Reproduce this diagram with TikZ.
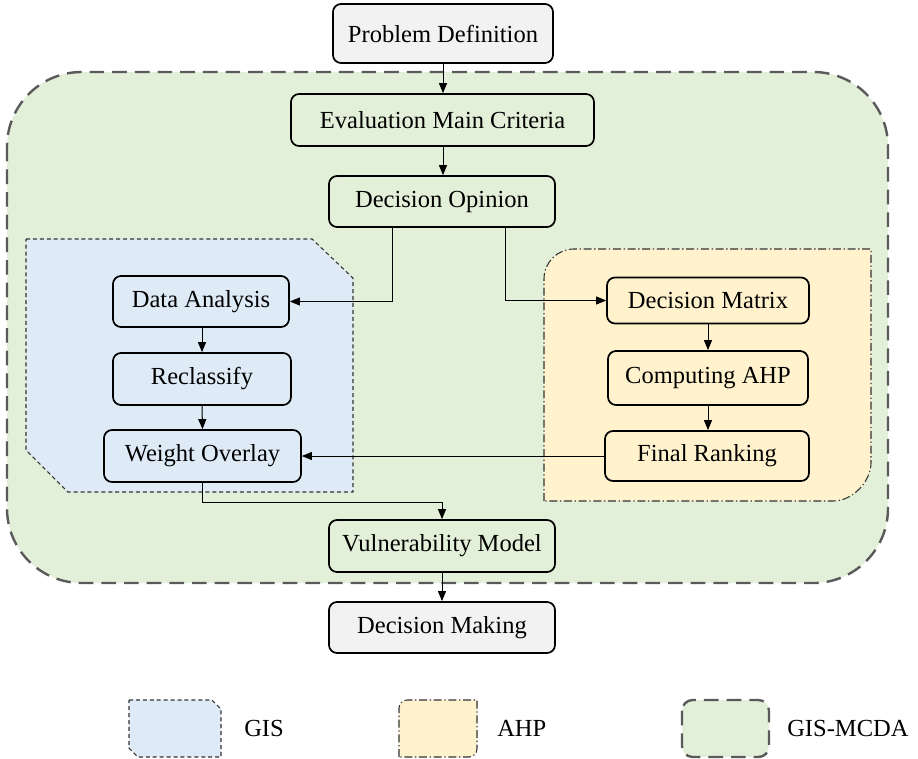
\documentclass[tikz,border=0pt]{standalone}
\usepackage{fontspec}
\setmainfont{Liberation Serif}
\usetikzlibrary{arrows.meta}
\definecolor{gfill}{HTML}{E2EFD9}
\definecolor{bfill}{HTML}{DEEBF7}
\definecolor{yfill}{HTML}{FFF2CC}
\definecolor{pfill}{HTML}{F2F2F2}
\definecolor{dgray}{HTML}{5A5A5A}
\definecolor{lgray}{HTML}{333333}
\begin{document}
\begin{tikzpicture}[x=0.75pt,y=-0.75pt,
  box/.style={draw,line width=1.3pt,rounded corners=6pt,inner sep=0pt,
    font=\fontsize{18.4pt}{22pt}\selectfont},
  arr/.style={-{Triangle[length=7.5pt,width=6pt]},line width=0.75pt},
  mcdaline/.style={draw=dgray,line width=1.8pt,dash pattern=on 11pt off 6pt},
  gisline/.style={draw=lgray,line width=0.8pt,dash pattern=on 3pt off 2.2pt},
  ahpline/.style={draw=lgray,line width=0.8pt,dash pattern=on 6pt off 2pt on 1pt off 2pt},
  legtext/.style={anchor=west,inner sep=0pt,font=\fontsize{18.4pt}{22pt}\selectfont}]
\useasboundingbox (0,0) rectangle (918,758);
% regions
\path[mcdaline,fill=gfill,rounded corners=56pt] (7,72) rectangle (888,583);
\path[gisline,fill=bfill] (26,239) -- (312,239) -- (353,278) -- (353,492) -- (68,492) -- (26,450) -- cycle;
\path[ahpline,fill=yfill] (544,501) -- (544,279) .. controls (544,262.4) and (557.4,249) .. (574,249)
  -- (871,249) -- (871,463) .. controls (871,480) and (854,501) .. (833,501) -- cycle;
% nodes
\node[box,fill=pfill,minimum width=165pt,minimum height=44.25pt] (pd) at (443,33.5) {Problem Definition};
\node[box,fill=gfill,minimum width=227.25pt,minimum height=39pt] (emc) at (442.5,120) {Evaluation Main Criteria};
\node[box,fill=gfill,minimum width=169.5pt,minimum height=38.25pt] (do) at (442,201.5) {Decision Opinion};
\node[box,fill=bfill,minimum width=132pt,minimum height=38.25pt] (da) at (201,301.5) {Data Analysis};
\node[box,fill=bfill,minimum width=133.5pt,minimum height=39pt] (rc) at (202,379) {Reclassify};
\node[box,fill=bfill,minimum width=147.75pt,minimum height=39pt] (wo) at (202.5,456) {Weight Overlay};
\node[box,fill=yfill,minimum width=151.5pt,minimum height=34.5pt] (dm) at (708,300.5) {Decision Matrix};
\node[box,fill=yfill,minimum width=150pt,minimum height=40.5pt] (ca) at (708,378) {Computing AHP};
\node[box,fill=yfill,minimum width=153pt,minimum height=37.5pt] (fr) at (707,456) {Final Ranking};
\node[box,fill=gfill,minimum width=169.5pt,minimum height=39pt] (vm) at (442,546) {Vulnerability Model};
\node[box,fill=pfill,minimum width=169.5pt,minimum height=38.25pt] (dmk) at (442,627.5) {Decision Making};
% connectors
\coordinate (c1) at (392,0);
\coordinate (c2) at (505,0);
\coordinate (c3) at (0,502);
\draw[arr] (pd.south) -- (emc.north -| pd.south);
\draw[arr] (emc.south -| pd.south) -- (do.north -| pd.south);
\draw[arr] (c1 |- do.south) |- (da.east);
\draw[arr] (c2 |- do.south) |- (dm.west);
\draw[arr] (da.south -| rc.north) -- (rc.north);
\draw[arr] (rc.south) -- (wo.north);
\draw[arr] (dm.south) -- (ca.north);
\draw[arr] (ca.south) -- (fr.north -| ca.south);
\draw[arr] (fr.west) -- (wo.east);
\draw[arr] (wo.south) -- (wo.south |- c3) -| (vm.north);
\draw[arr] (vm.south) -- (dmk.north);
% legend
\path[gisline,fill=bfill] (129,700) -- (212,700) -- (221,709) -- (221,757) -- (138,757) -- (129,748) -- cycle;
\node[legtext] (lgis) at (244,728) {GIS};
\path[ahpline,fill=yfill] (399,757) -- (399,708) .. controls (399,703.6) and (403.4,700) .. (407,700)
  -- (477,700) -- (477,749) .. controls (477,753.4) and (472.6,757) .. (469,757) -- cycle;
\node[legtext] (lahp) at (497,728) {AHP};
\path[mcdaline,fill=gfill,rounded corners=8pt] (682,700) rectangle (769,757);
\node[legtext] (lmcda) at (787,728) {GIS-MCDA};
\end{tikzpicture}
\end{document}
